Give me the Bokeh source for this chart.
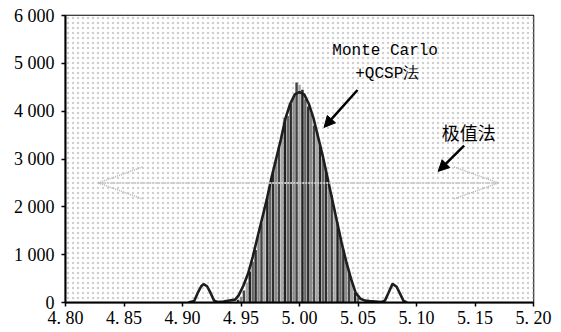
from bokeh.plotting import figure
from bokeh.models import Arrow, NormalHead, FixedTicker, Range1d
from bokeh.core.properties import value
from bokeh.embed import file_html
from bokeh.resources import INLINE

# histogram bins (centres) and counts
bin_centers = [4.9475, 4.9500, 4.9525, 4.9550, 4.9575, 4.9600, 4.9625, 4.9650, 4.9675, 4.9700,
               4.9725, 4.9750, 4.9775, 4.9800, 4.9825, 4.9850, 4.9875, 4.9900, 4.9925, 4.9950,
               4.9975, 5.0000, 5.0025, 5.0050, 5.0075, 5.0100, 5.0125, 5.0150, 5.0175, 5.0200,
               5.0225, 5.0250, 5.0275, 5.0300, 5.0325, 5.0350, 5.0375, 5.0400, 5.0425, 5.0450,
               5.0475, 5.0500]
bin_counts = [60, 120, 250, 420, 650, 850, 1100, 1400, 1650, 1950,
              2200, 2450, 2750, 3000, 3250, 3500, 3850, 3900, 4150, 4300,
              4600, 4550, 4450, 4250, 4100, 3950, 3700, 3550, 3300, 3000,
              2800, 2500, 2250, 1950, 1650, 1350, 1100, 850, 600, 400,
              200, 100]

# fitted curve (Monte Carlo + QCSP)
curve_x = [4.905, 4.910, 4.913, 4.916, 4.918, 4.921, 4.924, 4.927, 4.930, 4.935, 4.940, 4.945,
           4.948, 4.952, 4.956, 4.960, 4.964, 4.968, 4.972, 4.976, 4.980, 4.984, 4.988, 4.992,
           4.996, 5.000, 5.004, 5.008, 5.012, 5.016, 5.020, 5.024, 5.028, 5.032, 5.036, 5.040,
           5.044, 5.048, 5.052, 5.056, 5.060, 5.065, 5.070, 5.073, 5.076, 5.0795, 5.083, 5.086,
           5.089, 5.092]
curve_y = [0, 30, 200, 340, 385, 340, 200, 40, 10, 20, 40, 60,
           150, 350, 600, 950, 1350, 1750, 2150, 2600, 3000, 3400, 3850, 4150,
           4350, 4400, 4350, 4150, 3850, 3450, 3050, 2600, 2150, 1700, 1250, 850,
           500, 200, 80, 40, 30, 20, 10, 40, 200, 390, 330, 180,
           30, 0]

# extreme-value method range
extreme_x = [4.828, 5.170]
extreme_y = 2500

x_ticks = [4.80, 4.85, 4.90, 4.95, 5.00, 5.05, 5.10, 5.15, 5.20]
x_tick_labels = ["4. 80", "4. 85", "4. 90", "4. 95", "5. 00", "5. 05", "5. 10", "5. 15", "5. 20"]
y_ticks = [0, 1000, 2000, 3000, 4000, 5000, 6000]
y_tick_labels = ["0", "1 000", "2 000", "3 000", "4 000", "5 000", "6 000"]

p = figure(width=561, height=332, output_backend="svg", toolbar_location=None,
           x_range=Range1d(4.80, 5.20), y_range=Range1d(0, 6000),
           min_border_left=65, min_border_right=28, min_border_top=15, min_border_bottom=30)
p.background_fill_color = "white"
p.border_fill_color = "white"
p.outline_line_color = "black"
p.outline_line_width = 1.5

# stippled background
p.quad(left=[4.80], right=[5.20], bottom=[0], top=[6000], fill_color="white",
       line_color=None, hatch_pattern="dot", hatch_color="#cfcfcf", hatch_scale=5, hatch_weight=0.6)

# vertical grid
p.xgrid.ticker = FixedTicker(ticks=x_ticks)
p.xgrid.grid_line_color = "#4a4a4a"
p.xgrid.grid_line_width = 1
p.ygrid.grid_line_color = None

# histogram
palette = ["#2e2e2e", "#8a8a8a", "#444444", "#a8a8a8", "#222222", "#666666"]
colors = [palette[i % len(palette)] for i in range(len(bin_centers))]
p.vbar(x=bin_centers, top=bin_counts, width=0.0021, fill_color=colors, line_color=None)

# curve
p.line(curve_x, curve_y, line_color="#1e1e1e", line_width=2.6)

# extreme value range (dotted double arrow)
p.line(extreme_x, [extreme_y, extreme_y], line_color="#cccccc", line_width=2, line_dash="2 1")
dx = 0.038
dy = 335
p.segment(x0=[extreme_x[0], extreme_x[0], extreme_x[1], extreme_x[1]],
          y0=[extreme_y] * 4,
          x1=[extreme_x[0] + dx, extreme_x[0] + dx, extreme_x[1] - dx, extreme_x[1] - dx],
          y1=[extreme_y + dy, extreme_y - dy, extreme_y + dy, extreme_y - dy],
          line_color="#b4b4b4", line_width=1.5, line_dash="1 1")

# annotations
font_mono = value("Liberation Mono")
p.text(x=[5.0732, 5.0750], y=[5266, 4785], text=["Monte Carlo", "+QCSP法"],
       text_font=font_mono, text_font_size="16px", text_align="center",
       text_baseline="middle", text_color="#000000")
p.text(x=[5.1446], y=[3557], text=["极值法"], text_font=value("Noto Sans CJK SC"),
       text_font_size="18px", text_align="center", text_baseline="middle", text_color="#000000")

p.add_layout(Arrow(end=NormalHead(size=11, fill_color="black", line_color="black"),
                   x_start=5.0496, y_start=4443, x_end=5.021, y_end=3661,
                   line_color="black", line_width=2.5))
p.add_layout(Arrow(end=NormalHead(size=11, fill_color="black", line_color="black"),
                   x_start=5.1407, y_start=3278, x_end=5.1185, y_end=2741,
                   line_color="black", line_width=2.5))

# axes
for ax in (p.xaxis[0], p.yaxis[0]):
    ax.axis_line_width = 2
    ax.axis_line_color = "black"
    ax.major_tick_out = 4
    ax.major_tick_in = 0
    ax.minor_tick_out = 0
    ax.minor_tick_in = 0
    ax.major_tick_line_color = "black"
    ax.major_tick_line_width = 1.5
    ax.major_label_text_font = "Liberation Serif"
    ax.major_label_text_font_size = "18px"
    ax.major_label_text_color = "black"

p.xaxis.ticker = FixedTicker(ticks=x_ticks)
p.xaxis.major_label_overrides = {t: l for t, l in zip(x_ticks, x_tick_labels)}
p.xaxis.major_label_standoff = 1
p.yaxis.ticker = FixedTicker(ticks=y_ticks)
p.yaxis.major_label_overrides = {t: l for t, l in zip(y_ticks, y_tick_labels)}
p.yaxis.major_label_standoff = 7

open("out.html", "w").write(file_html(p, INLINE))
